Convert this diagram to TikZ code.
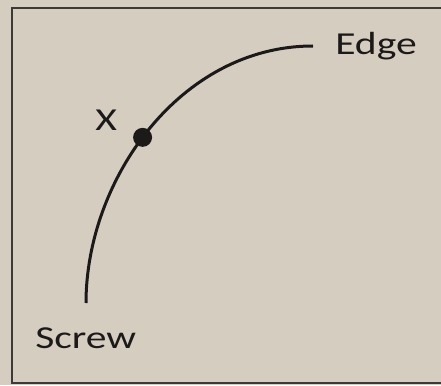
\documentclass[tikz,border=0pt]{standalone}
\usepackage{fontspec}
\setmainfont{Carlito}
\definecolor{paper}{RGB}{214,205,193}
\definecolor{ink}{RGB}{28,26,25}
\definecolor{frame}{RGB}{60,58,56}
\tikzset{
  lbl/.style={inner sep=0pt, anchor=base west, text=ink, font=\fontsize{32}{36}\selectfont, xscale=1.3},
  curveline/.style={draw=ink, line width=3pt},
  dotmark/.style={circle, fill=ink, inner sep=0pt, minimum size=19pt}
}
\begin{document}
\begin{tikzpicture}[x=1pt,y=-1pt]
  \useasboundingbox (0,0) rectangle (441,385);
  \clip (0,0) rectangle (441,385);
  \fill[paper] (0,0) rectangle (441,385);
  \draw[frame, line width=2pt] (12,8) rectangle (460,383);
  \coordinate (s) at (86,303);
  \coordinate (e) at (313,46);
  \draw[curveline] (s) .. controls (86,180) and (180,46) .. (e)
     node[pos=0.47, dotmark] (x) {};
  \node[lbl] (edge) at (335,55) {Edge};
  \node[lbl] (screw) at (35,348) {Screw};
  \node[lbl] (xl) at (95,130) {X};
\end{tikzpicture}
\end{document}
